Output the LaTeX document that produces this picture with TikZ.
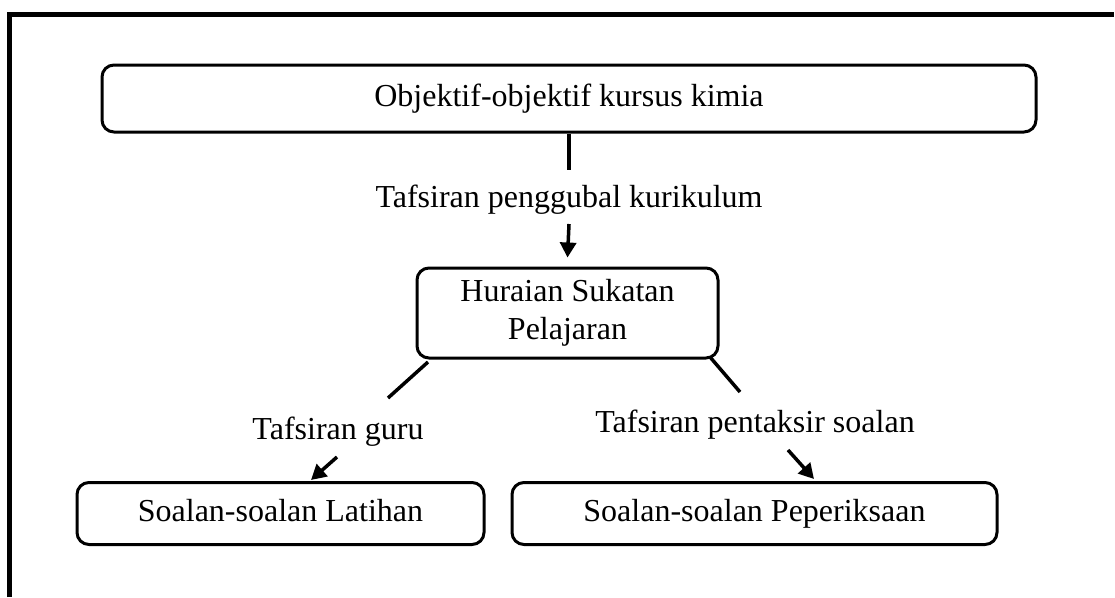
\documentclass[tikz,border=0pt]{standalone}
\usepackage{fontspec}
\setmainfont{Liberation Serif}
\usetikzlibrary{arrows.meta}
\begin{document}
\begin{tikzpicture}[x=1pt,y=-1pt,
  box/.style={draw=black,line width=3pt,rounded corners=12pt,inner sep=0pt,
    font=\fontsize{32}{37}\selectfont,align=center},
  lbl/.style={inner sep=0pt,font=\fontsize{32}{37}\selectfont,text height=22pt,text depth=7pt},
  conn/.style={line width=3.5pt},
  arr/.style={line width=3.5pt,-{Triangle[length=15pt,width=16pt]}}]
\useasboundingbox (0,0) rectangle (1115,597);
\draw[line width=5pt] (9.5,597) -- (9.5,14) -- (1114,14);
\node[box,minimum width=934pt,minimum height=67pt,text height=22pt,text depth=7pt] (top) at (569,98.5) {Objektif-objektif kursus kimia};
\node[lbl] (l1) at (569,200) {Tafsiran penggubal kurikulum};
\node[box,minimum width=301pt,minimum height=90pt] (mid) at (567.5,313) {Huraian Sukatan\\[1pt]Pelajaran};
\node[lbl] (l2) at (338,432) {Tafsiran guru};
\node[lbl] (l3) at (755,425) {Tafsiran pentaksir soalan};
\node[box,minimum width=407pt,minimum height=62pt,text height=22pt,text depth=7pt] (bl) at (280.5,513.5) {Soalan-soalan Latihan};
\node[box,minimum width=485pt,minimum height=62pt,text height=22pt,text depth=7pt] (br) at (754.5,513.5) {Soalan-soalan Peperiksaan};
\coordinate (a1) at (428,362);
\coordinate (a2) at (388,398);
\coordinate (a3) at (337,457);
\coordinate (a4) at (311,480);
\coordinate (b1) at (710,357);
\coordinate (b2) at (740,392);
\coordinate (b3) at (788,450);
\coordinate (b4) at (814,479);
\draw[conn] (top.south) -- ([yshift=-36pt]top.south);
\draw[arr] ([yshift=-24pt]l1.center) -- ([yshift=9pt]mid.north);
\draw[conn] (a1) -- (a2);
\draw[arr] (a3) -- (a4);
\draw[conn] (b1) -- (b2);
\draw[arr] (b3) -- (b4);
\end{tikzpicture}
\end{document}
